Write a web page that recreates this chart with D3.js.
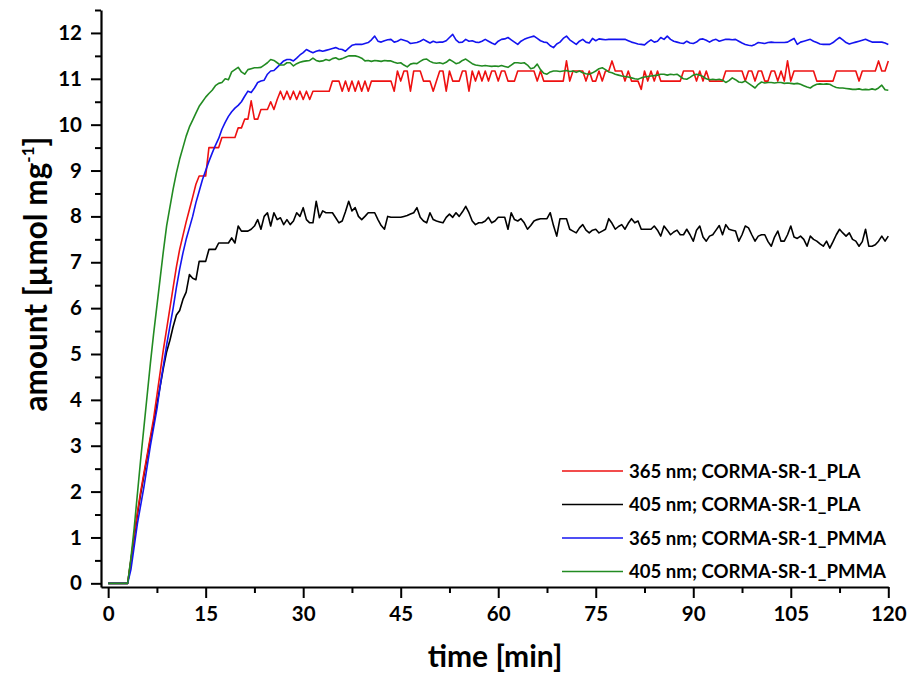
<!DOCTYPE html>
<html><head><meta charset="utf-8">
<script src="https://cdn.jsdelivr.net/npm/d3@7"></script>
<style>
body{margin:0;background:#fff}
svg{display:block}
text{font-family:Lato,'Open Sans',sans-serif;font-weight:700;fill:#000}
</style>
</head><body>
<svg id="chart" width="912" height="677"></svg>
<script>
// sampling interval of the measurement: 0.5 min, starting at t = 0
const sampleStep = 0.5;

const red365PLA = [
0,0,0,0,0,0,0,0.5,1.05,1.55,
2.0,2.4,2.8,3.2,3.6,4.1,4.6,5.1,5.55,6.0,
6.45,6.9,7.28,7.58,7.88,8.15,8.42,8.7,8.88,8.88,
8.88,9.5,9.5,9.5,9.5,9.72,9.72,9.72,9.72,9.72,
9.93,9.93,10.12,10.12,10.52,10.12,10.12,10.33,10.33,10.33,
10.5,10.33,10.55,10.73,10.55,10.73,10.55,10.73,10.55,10.73,
10.55,10.73,10.55,10.73,10.73,10.73,10.73,10.73,10.73,10.95,
10.95,10.95,10.73,10.95,10.73,10.95,10.73,10.95,10.73,10.95,
10.73,10.95,10.95,10.95,10.95,10.95,10.95,10.95,10.73,11.17,
10.95,11.17,11.17,10.73,11.17,11.17,11.17,10.95,10.95,10.95,
10.73,10.95,11.17,11.17,10.73,11.17,10.95,10.95,10.95,11.17,
11.17,10.73,11.17,10.95,11.17,10.95,11.17,10.95,11.17,11.17,
10.95,11.17,11.17,10.95,10.95,10.95,11.17,11.17,11.17,11.17,
11.17,11.17,10.95,11.17,10.95,10.95,10.95,10.95,10.95,10.95,
10.95,11.39,10.95,11.17,11.17,11.17,11.17,10.95,11.17,10.95,
10.95,11.17,10.95,11.17,11.17,11.39,11.17,11.17,11.17,10.95,
11.17,10.95,10.95,10.95,10.77,11.17,10.95,11.17,10.95,11.17,
10.95,10.95,10.95,10.95,10.95,10.95,10.95,11.17,11.17,11.17,
11.17,10.95,11.17,10.95,11.17,10.95,10.95,10.95,10.95,10.95,
11.17,11.17,11.17,11.17,11.17,11.17,10.95,11.17,11.17,10.95,
11.17,11.17,10.95,10.95,11.17,11.17,10.95,11.17,10.95,11.39,
10.95,11.17,11.17,11.17,11.17,11.17,11.17,11.17,10.95,10.95,
10.95,10.95,10.95,10.95,11.17,11.17,11.17,11.17,11.17,11.17,
11.17,10.95,11.17,11.17,11.17,11.17,11.17,11.39,11.17,11.17,
11.39];

const black405PLA = [
0,0,0,0,0,0,0,0.5,1.0,1.5,
1.95,2.35,2.75,3.15,3.5,3.9,4.3,4.7,5.05,5.3,
5.6,5.85,5.95,6.19,6.35,6.73,6.65,6.62,7.02,7.02,
7.02,7.28,7.28,7.28,7.42,7.42,7.42,7.42,7.53,7.42,
7.79,7.68,7.68,7.68,7.72,7.79,7.93,7.72,8.0,8.08,
7.79,8.08,7.93,7.97,7.82,7.93,7.82,7.9,8.08,8.0,
8.19,7.93,7.86,7.86,8.33,7.97,8.12,8.08,8.08,8.08,
7.97,7.86,7.9,8.1,8.33,8.12,8.19,8.0,7.93,8.0,
8.08,8.08,8.08,7.93,7.8,7.72,8.0,7.98,7.98,7.98,
7.98,8.0,8.02,8.05,8.08,8.19,7.98,7.9,7.86,8.08,
7.93,7.9,7.88,7.86,7.98,8.05,7.98,8.08,8.0,8.1,
8.22,8.08,7.9,7.82,7.86,7.86,7.9,7.98,7.86,7.9,
7.98,7.98,7.98,7.72,8.08,7.93,7.9,7.95,7.86,7.72,
7.8,7.9,7.93,7.95,7.95,7.95,8.08,7.8,7.57,7.95,
7.95,7.95,7.72,7.68,7.64,7.75,7.82,7.7,7.64,7.7,
7.72,7.64,7.68,7.72,7.95,7.85,7.72,7.78,7.82,7.72,
7.85,7.95,7.86,7.9,7.72,7.72,7.72,7.72,7.79,7.7,
7.57,7.79,7.7,7.6,7.66,7.7,7.6,7.6,7.72,7.6,
7.46,7.7,7.79,7.55,7.46,7.57,7.6,7.7,7.8,7.6,
7.82,7.72,7.7,7.68,7.46,7.6,7.79,7.75,7.6,7.46,
7.57,7.6,7.6,7.45,7.35,7.55,7.68,7.46,7.46,7.6,
7.79,7.55,7.52,7.57,7.5,7.35,7.57,7.5,7.46,7.4,
7.35,7.46,7.31,7.45,7.6,7.72,7.64,7.57,7.64,7.5,
7.46,7.35,7.45,7.72,7.35,7.35,7.38,7.46,7.57,7.46,
7.57];

const blue365PMMA = [
0,0,0,0,0,0,0,0.3,0.8,1.3,
1.7,2.1,2.55,3.0,3.4,3.8,4.3,4.75,5.2,5.6,
6.0,6.45,6.85,7.2,7.5,7.75,8.0,8.3,8.55,8.8,
9.0,9.2,9.38,9.55,9.7,9.9,10.05,10.18,10.28,10.36,
10.42,10.5,10.62,10.73,10.7,10.8,10.92,10.95,10.97,11.1,
11.17,11.18,11.25,11.32,11.39,11.42,11.42,11.39,11.45,11.52,
11.57,11.64,11.6,11.57,11.6,11.62,11.6,11.62,11.64,11.66,
11.68,11.65,11.64,11.6,11.67,11.73,11.75,11.75,11.75,11.77,
11.79,11.85,11.93,11.82,11.8,11.83,11.85,11.86,11.8,11.82,
11.86,11.84,11.82,11.77,11.78,11.79,11.82,11.86,11.82,11.78,
11.82,11.79,11.8,11.8,11.83,11.9,11.97,11.85,11.79,11.8,
11.86,11.82,11.83,11.8,11.79,11.82,11.86,11.82,11.78,11.75,
11.82,11.86,11.87,11.9,11.85,11.8,11.75,11.82,11.86,11.89,
11.91,11.93,11.88,11.83,11.8,11.79,11.72,11.68,11.76,11.8,
11.88,11.93,11.85,11.8,11.75,11.82,11.86,11.8,11.78,11.88,
11.83,11.87,11.86,11.85,11.86,11.86,11.86,11.86,11.86,11.86,
11.83,11.8,11.78,11.76,11.75,11.74,11.8,11.85,11.8,11.82,
11.9,11.86,11.93,11.86,11.82,11.8,11.78,11.77,11.82,11.78,
11.77,11.8,11.86,11.87,11.84,11.8,11.84,11.86,11.82,11.84,
11.86,11.86,11.85,11.86,11.82,11.78,11.75,11.73,11.72,11.75,
11.79,11.78,11.77,11.79,11.8,11.79,11.79,11.79,11.79,11.8,
11.84,11.88,11.75,11.8,11.82,11.84,11.86,11.82,11.79,11.76,
11.75,11.75,11.75,11.79,11.85,11.9,11.85,11.79,11.76,11.78,
11.8,11.82,11.84,11.86,11.83,11.8,11.8,11.8,11.8,11.78,
11.75];

const green405PMMA = [
0,0,0,0,0,0,0,0.55,1.2,1.95,
2.7,3.4,4.1,4.8,5.45,6.05,6.65,7.25,7.8,8.2,
8.6,8.95,9.25,9.5,9.75,9.95,10.1,10.25,10.4,10.5,
10.6,10.68,10.75,10.85,10.9,10.92,11.0,10.98,11.15,11.2,
11.25,11.15,11.1,11.2,11.22,11.24,11.24,11.25,11.3,11.35,
11.42,11.4,11.35,11.3,11.3,11.35,11.35,11.28,11.33,11.36,
11.38,11.39,11.4,11.45,11.4,11.38,11.39,11.42,11.4,11.44,
11.46,11.42,11.44,11.47,11.5,11.5,11.5,11.48,11.45,11.39,
11.4,11.38,11.4,11.39,11.38,11.4,11.39,11.39,11.36,11.34,
11.35,11.3,11.26,11.32,11.34,11.33,11.38,11.42,11.43,11.38,
11.35,11.34,11.35,11.33,11.36,11.42,11.38,11.33,11.35,11.4,
11.43,11.38,11.33,11.3,11.29,11.28,11.29,11.28,11.27,11.28,
11.27,11.29,11.27,11.25,11.3,11.35,11.35,11.34,11.35,11.3,
11.22,11.24,11.32,11.2,11.12,11.1,11.15,11.17,11.17,11.16,
11.17,11.18,11.16,11.17,11.14,11.17,11.13,11.11,11.1,11.13,
11.17,11.22,11.24,11.2,11.15,11.13,11.1,11.08,11.06,11.05,
11.04,11.02,11.0,10.99,11.02,11.04,11.05,11.06,11.07,11.08,
11.1,11.1,11.08,11.1,11.09,11.1,11.05,11.0,10.99,11.03,
11.08,11.1,11.08,11.05,11.0,10.98,10.99,10.98,10.99,10.97,
10.92,10.96,11.02,10.98,10.93,10.92,10.95,10.9,10.85,10.8,
10.88,10.93,10.91,10.92,10.92,10.91,10.92,10.92,10.9,10.91,
10.9,10.89,10.9,10.88,10.85,10.82,10.8,10.85,10.88,10.89,
10.88,10.89,10.88,10.84,10.81,10.8,10.8,10.79,10.78,10.77,
10.77,10.78,10.76,10.77,10.76,10.78,10.76,10.8,10.86,10.76,
10.75];

const seriesLabels = [
  "365 nm; CORMA-SR-1_PLA",
  "405 nm; CORMA-SR-1_PLA",
  "365 nm; CORMA-SR-1_PMMA",
  "405 nm; CORMA-SR-1_PMMA"
];
const seriesValues = [red365PLA, black405PLA, blue365PMMA, green405PMMA];
const seriesColors = ["#ee1111", "#000000", "#1414f0", "#228b22"];
// drawing order (back to front)
const drawOrder = [1, 0, 2, 3];

const xTickValues = [0, 15, 30, 45, 60, 75, 90, 105, 120];
const xMinorTicks = [7.5, 22.5, 37.5, 52.5, 67.5, 82.5, 97.5, 112.5];
const yTickValues = [0,1,2,3,4,5,6,7,8,9,10,11,12];
const yMinorTicks = [0.5,1.5,2.5,3.5,4.5,5.5,6.5,7.5,8.5,9.5,10.5,11.5,12.5];

const svg = d3.select("#chart");
const x = d3.scaleLinear().domain([-1.1, 120]).range([101, 888.3]);
const y = d3.scaleLinear().domain([-0.08, 12.5]).range([587, 10]);

// lines
const line = d3.line()
  .x((d, i) => x(i * sampleStep))
  .y(d => y(d));

const plot = svg.append("g");
drawOrder.forEach(k => {
  plot.append("path")
    .datum(seriesValues[k])
    .attr("fill", "none")
    .attr("stroke", seriesColors[k])
    .attr("stroke-width", 1.6)
    .attr("stroke-linejoin", "round")
    .attr("d", line);
});

// axes
function styleAxis(g) {
  g.selectAll("path.domain").attr("stroke", "#000").attr("stroke-width", 2.2);
  g.selectAll(".tick line").attr("stroke", "#000").attr("stroke-width", 2);
  g.selectAll("text").attr("font-size", 20.5).attr("fill", "#000")
    .style("font-family", "Lato, 'Open Sans', sans-serif").style("font-weight", 700);
}

const xAxisG = svg.append("g").attr("transform", `translate(0,${y(-0.08)})`);
xAxisG.append("g").call(d3.axisBottom(x).tickValues(xMinorTicks).tickSize(6).tickSizeOuter(0).tickFormat(""))
  .call(g => g.select(".domain").remove())
  .call(styleAxis);
xAxisG.append("g").call(d3.axisBottom(x).tickValues(xTickValues).tickSize(11).tickSizeOuter(0).tickPadding(8))
  .call(styleAxis);

const yAxisG = svg.append("g").attr("transform", `translate(${x(-1.1)},0)`);
yAxisG.append("g").call(d3.axisLeft(y).tickValues(yMinorTicks).tickSize(6).tickSizeOuter(0).tickFormat(""))
  .call(g => g.select(".domain").remove())
  .call(styleAxis);
yAxisG.append("g").call(d3.axisLeft(y).tickValues(yTickValues).tickSize(10).tickSizeOuter(0).tickPadding(9))
  .call(styleAxis);

// axis titles
svg.append("text")
  .attr("x", 495).attr("y", 667)
  .attr("text-anchor", "middle")
  .attr("font-size", 30)
  .text("time [min]");

const yTitle = svg.append("text")
  .attr("transform", "translate(47,274) rotate(-90)")
  .attr("text-anchor", "middle")
  .attr("font-size", 31.5);
yTitle.append("tspan").text("amount [µmol mg");
yTitle.append("tspan").attr("font-size", 17).attr("dy", -13).text("-1");
yTitle.append("tspan").attr("dy", 13).text("]");

// legend
const legendRows = [471, 504.5, 538, 571.5];
const legend = svg.append("g");
seriesLabels.forEach((lab, i) => {
  const ry = legendRows[i];
  legend.append("line")
    .attr("x1", 562).attr("x2", 623)
    .attr("y1", ry).attr("y2", ry)
    .attr("stroke", seriesColors[i]).attr("stroke-width", 1.6);
  legend.append("text")
    .attr("x", 629).attr("y", ry + 6.5)
    .attr("font-size", 18.6)
    .text(lab);
});
</script>
</body></html>
